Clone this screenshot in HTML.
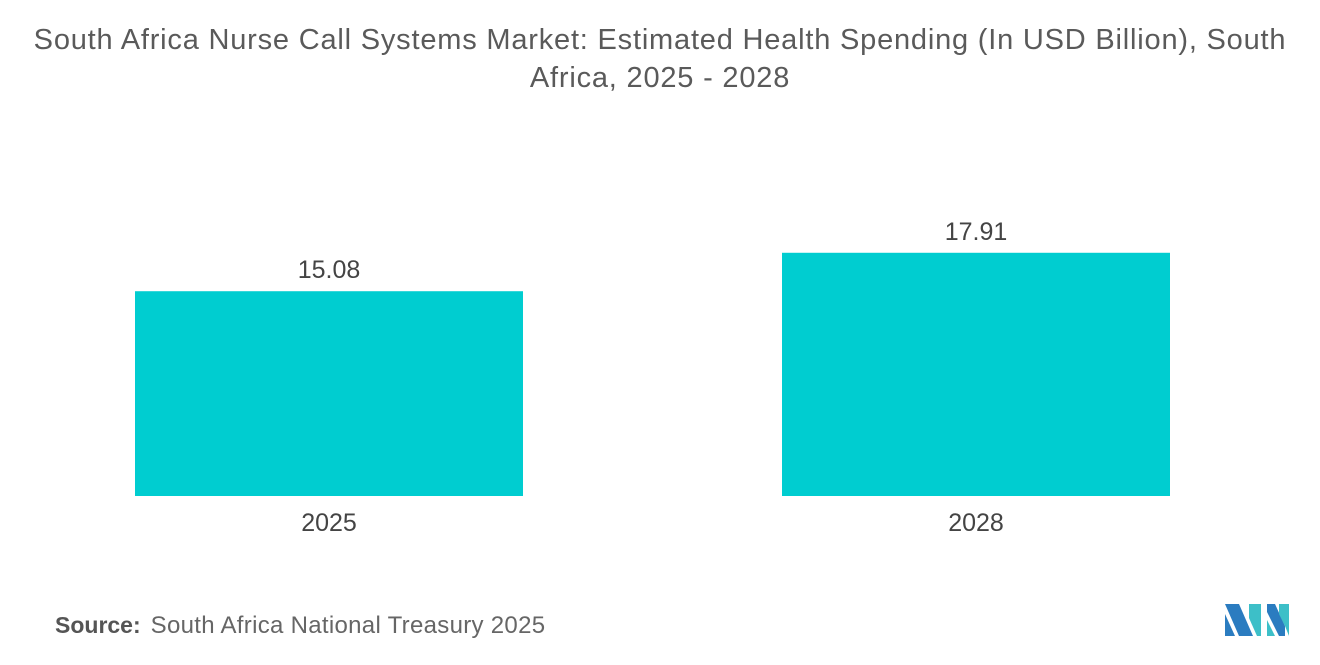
<!DOCTYPE html>
<html><head><meta charset="utf-8"><style>
body{margin:0;width:1320px;height:665px;background:#fff;font-family:"Liberation Sans",sans-serif;overflow:hidden;position:relative}
#title{position:absolute;left:0;width:1320px;top:21px;text-align:center;font-size:29px;letter-spacing:0.8px;line-height:38px;color:#5a5a5a;white-space:nowrap}
#src{position:absolute;left:55px;top:612px;font-size:24px;color:#666;white-space:nowrap}
#src b{color:#555;font-weight:bold;margin-right:10px;font-size:23px}
#src span{letter-spacing:0.3px}
</style></head><body>
<div id="title">South Africa Nurse Call Systems Market: Estimated Health Spending (In USD Billion), South<br>Africa, 2025 - 2028</div>
<svg id="chart" width="1320" height="665" style="position:absolute;left:0;top:0"></svg>
<div id="src"><b>Source:</b><span>South Africa National Treasury 2025</span></div>
<svg width="70" height="40" style="position:absolute;left:1223px;top:600px">
<polygon points="2,4 16,4 30,36 16,36" fill="#2b7cc0"/>
<polygon points="2,14 12,36 2,36" fill="#2b7cc0"/>
<polygon points="26,4 38,4 38,36 34,36 26,18" fill="#3dbfc8"/>
<polygon points="44,4 52,4 62,26 62,36 56,36 44,12" fill="#2b7cc0"/>
<polygon points="56,4 66,4 66,36 62,26 56,14" fill="#3dbfc8"/>
<polygon points="44,20 52,36 44,36" fill="#3dbfc8"/>
</svg>
<script>
const categories=["2025","2028"];
const values=[15.08,17.91];
const labels=["15.08","17.91"];
const NS="http://www.w3.org/2000/svg";
const svg=document.getElementById('chart');
const base=496, scale=13.58;
const y=v=>base-v*scale;
const x0=[135,782], bw=388;
categories.forEach((c,i)=>{
  const r=document.createElementNS(NS,'rect');
  r.setAttribute('x',x0[i]);r.setAttribute('y',y(values[i]));
  r.setAttribute('width',bw);r.setAttribute('height',base-y(values[i]));
  r.setAttribute('fill','#00cdd0');
  
  
  svg.appendChild(r);
  const t=document.createElementNS(NS,'text');
  t.setAttribute('x',x0[i]+bw/2);t.setAttribute('y',y(values[i])-13);
  t.setAttribute('text-anchor','middle');t.setAttribute('font-size','25');t.setAttribute('fill','#444');
  t.textContent=labels[i];
  
  
  svg.appendChild(t);
  const a=document.createElementNS(NS,'text');
  a.setAttribute('x',x0[i]+bw/2);a.setAttribute('y',531);
  a.setAttribute('text-anchor','middle');a.setAttribute('font-size','25');a.setAttribute('fill','#444');
  a.textContent=c;
  
  
  svg.appendChild(a);
});
</script>
</body></html>
